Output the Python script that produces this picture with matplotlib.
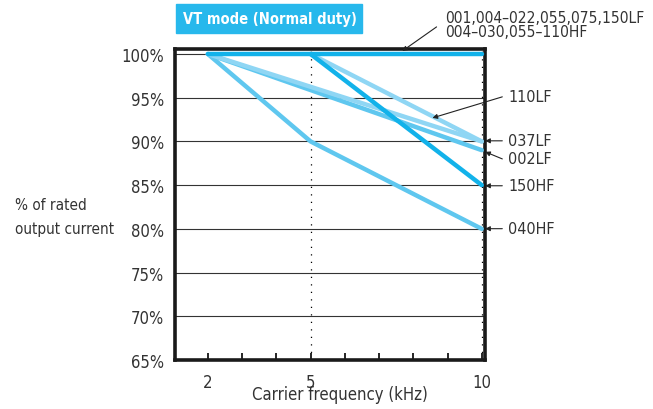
import matplotlib.pyplot as plt
from matplotlib.patches import Rectangle

plt.rcParams['font.family'] = ['DejaVu Sans']
plt.rcParams['font.stretch'] = 'condensed'

# derating curves: carrier frequency (kHz) -> % of rated output current
top_x, top_y = [2, 10], [100, 100]
lf110_x, lf110_y = [2, 10], [100, 90]
lf002_x, lf002_y = [2, 10], [100, 89]
lf037_x, lf037_y = [5, 10], [100, 90]
hf150_x, hf150_y = [5, 10], [100, 85]
hf040_x, hf040_y = [2, 5, 10], [100, 90, 80]

yticks = [65, 70, 75, 80, 85, 90, 95, 100]
xticks = [2, 5, 10]

deep = '#12b2ea'
mid = '#5fc7ef'
light = '#8fd6f4'
txt = '#333333'

fig = plt.figure(figsize=(6.53, 4.10), dpi=100)
ax = fig.add_axes([0.268, 0.1195, 0.475, 0.7585])
ax.set_xlim(1.04, 10.1)
ax.set_ylim(65, 100.57)

# grid
for y in yticks[1:]:
    ax.axhline(y, color=txt, lw=0.8, zorder=1)
for x in [5, 10]:
    ax.axvline(x, color='black', lw=0.9, ls=(0, (1, 5)), zorder=1)

lw = 3.2
ax.plot(hf040_x, hf040_y, color=mid, lw=lw, solid_capstyle='round', zorder=3)
ax.plot(lf002_x, lf002_y, color=mid, lw=lw, solid_capstyle='round', zorder=3)
ax.plot(lf110_x, lf110_y, color=light, lw=lw, solid_capstyle='round', zorder=3)
ax.plot(lf037_x, lf037_y, color=light, lw=lw, solid_capstyle='round', zorder=3)
ax.plot(hf150_x, hf150_y, color=deep, lw=lw, solid_capstyle='round', zorder=4)
ax.plot(top_x, top_y, color=deep, lw=lw, solid_capstyle='round', zorder=4)

for s in ax.spines.values():
    s.set_linewidth(2.6)
    s.set_color('#1a1a1a')

ax.set_yticks(yticks)
ax.set_yticklabels([f'{v}%' for v in yticks])
ax.set_xticks(xticks)
ax.set_xticks(range(2, 11), minor=True)
ax.tick_params(axis='y', length=0, pad=8, labelsize=12, colors=txt)
ax.tick_params(axis='x', which='both', direction='in', length=5, width=1.2,
               pad=9, labelsize=12, labelcolor=txt)

fig.text(0.521, 1 - 395 / 410, 'Carrier frequency (kHz)', ha='center', va='center',
         fontsize=12, color=txt)
fig.text(15 / 653, 1 - 218 / 410, '% of rated\noutput current', ha='left', va='center',
         fontsize=11, color=txt, linespacing=1.75)

# title box
fig.patches.append(Rectangle((176 / 653, 1 - 34 / 410), 186 / 653, 29 / 410,
                             transform=fig.transFigure, color='#27b8ec'))
fig.text(270 / 653, 1 - 19.5 / 410, 'VT mode (Normal duty)', ha='center', va='center',
         fontsize=10.5, color='white', fontweight='bold')

arrow = dict(arrowstyle='-|>', color='#222222', lw=0.8, mutation_scale=7,
             shrinkA=0, shrinkB=0)
kw = dict(xycoords='data', textcoords='data', annotation_clip=False,
          fontsize=11.5, color=txt, va='center')

ax.annotate('', xy=(7.68, 100.34), xytext=(8.68, 103.1), arrowprops=arrow,
            annotation_clip=False)
ax.text(8.92, 103.4, '001,004\u2013022,055,075,150LF\n004\u2013030,055\u2013110HF',
        fontsize=11.2, color=txt, va='center', linespacing=0.95)

labels = [
    ('110LF', (8.56, 92.69), 95.1, 95.1),
    ('037LF', (10.1, 90.07), 90.07, 90.07),
    ('002LF', (10.1, 88.81), 88.0, 88.0),
    ('150HF', (10.1, 84.93), 84.93, 84.93),
    ('040HF', (10.1, 80.02), 80.02, 80.02),
]
for name, tip, ytail, ytext in labels:
    ax.annotate('', xy=tip, xytext=(10.6, ytail), arrowprops=arrow, annotation_clip=False)
    ax.annotate(name, xy=(10.78, ytext), **kw)

fig.savefig('out.png', dpi=100)
